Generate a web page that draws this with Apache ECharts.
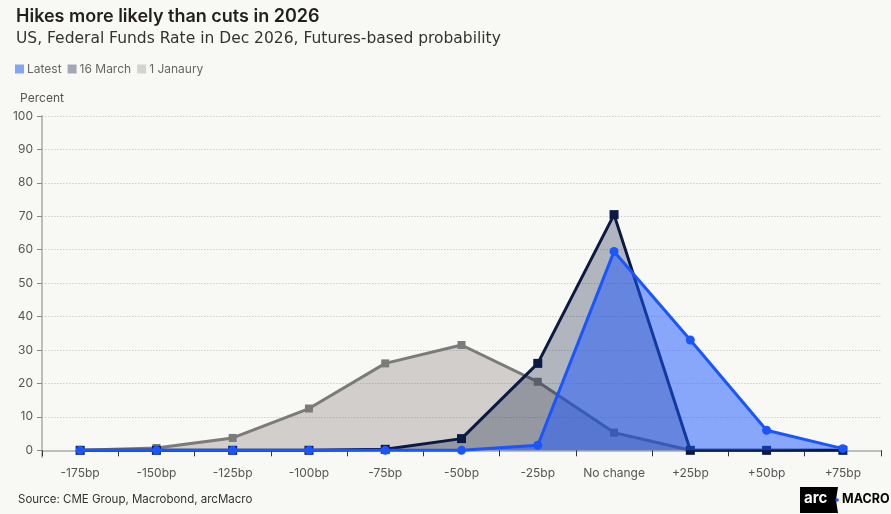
<!DOCTYPE html>
<html><head><meta charset="utf-8">
<script src="https://cdn.jsdelivr.net/npm/echarts@6/dist/echarts.min.js"></script>
<style>html,body{margin:0;padding:0;background:#f8f8f4}#c{width:891px;height:514px}</style>
</head><body><div id="c"></div>
<script>
const categories = ['-175bp','-150bp','-125bp','-100bp','-75bp','-50bp','-25bp','No change','+25bp','+50bp','+75bp'];
const latest   = [0, 0, 0, 0, 0, 0, 1.5, 59.5, 33, 6, 0.5];
const march16  = [0, 0, 0, 0, 0.3, 3.5, 26, 70.5, 0, 0, 0];
const jan1     = [0, 0.7, 3.7, 12.5, 26, 31.5, 20.5, 5.3, 0, 0, 0];
const yTicks   = [0,10,20,30,40,50,60,70,80,90,100];

const FONT = 'Inter, "Noto Sans", sans-serif';
const chart = echarts.init(document.getElementById('c'), null, {renderer:'canvas'});
chart.setOption({
  backgroundColor: '#f8f8f4',
  animation: false,
  textStyle: {fontFamily: FONT},
  title: [
    {text: 'Hikes more likely than cuts in 2026', left: 11, top: 3,
     textStyle: {fontFamily: FONT, fontSize: 18, fontWeight: 600, color: '#231f20'}},
    {text: 'US, Federal Funds Rate in Dec 2026, Futures-based probability', left: 11, top: 26,
     textStyle: {fontFamily: '"DejaVu Sans", sans-serif', fontSize: 15.5, fontWeight: 400, color: '#333'}},
    {text: 'Source: CME Group, Macrobond, arcMacro', left: 13, top: 489,
     textStyle: {fontFamily: FONT, fontSize: 11.5, fontWeight: 400, color: '#333'}}
  ],
  legend: {
    left: 10, top: 58, itemWidth: 9, itemHeight: 9, itemGap: 6,
    icon: 'rect',
    textStyle: {fontFamily: FONT, fontSize: 12, color: '#666', padding: [0,0,0,-2]},
    data: [
      {name: 'Latest', itemStyle: {color: '#82a6f6'}},
      {name: '16 March', itemStyle: {color: '#a3a8b5'}},
      {name: '1 Janaury', itemStyle: {color: '#d6d2d0'}}
    ]
  },
  grid: {left: 42, right: 10, top: 116, bottom: 57},
  xAxis: {
    type: 'category', data: categories, boundaryGap: true,
    axisLine: {lineStyle: {color: '#bdbdbd', width: 2}},
    axisTick: {show: true, length: 6, lineStyle: {color: '#333', width: 1}},
    axisLabel: {color: '#555', fontSize: 12, margin: 10, interval: 0, fontFamily: FONT}
  },
  yAxis: {
    type: 'value', min: -2, max: 100,
    name: 'Percent', nameLocation: 'end', nameGap: 12,
    nameTextStyle: {color: '#555', fontSize: 12, fontFamily: FONT, align: 'center'},
    axisLine: {show: true, lineStyle: {color: '#bdbdbd', width: 2}},
    axisTick: {show: true, inside: false, length: 5, lineStyle: {color: '#888'}, customValues: yTicks},
    axisLabel: {color: '#555', fontSize: 12, margin: 9, customValues: yTicks, fontFamily: FONT},
    splitLine: {show: true, lineStyle: {color: '#cfcfcf', type: [1.5, 1.5], width: 1}}
  },
  series: [
    {name: '1 Janaury', type: 'line', data: jan1, symbol: 'rect', symbolSize: 8,
     lineStyle: {color: '#7b7b7b', width: 3}, itemStyle: {color: '#7b7b7b'},
     areaStyle: {color: 'rgba(120,110,108,0.3)', opacity: 1, origin: 0}, z: 2},
    {name: '16 March', type: 'line', data: march16, symbol: 'rect', symbolSize: 9,
     lineStyle: {color: '#0b1a42', width: 3}, itemStyle: {color: '#0b1a42'},
     areaStyle: {color: 'rgba(11,26,66,0.3)', opacity: 1, origin: 0}, z: 3},
    {name: 'Latest', type: 'line', data: latest, symbol: 'circle', symbolSize: 9,
     lineStyle: {color: '#1a56ff', width: 3}, itemStyle: {color: '#1a56ff'},
     areaStyle: {color: 'rgba(26,86,255,0.5)', opacity: 1, origin: 0}, z: 4}
  ],
  graphic: [
    {type: 'polygon', shape: {points: [[800,487],[838,487],[836,500],[838,513],[800,513]]},
     style: {fill: '#000'}},
    {type: 'text', left: 804, top: 491, style: {text: 'arc', fill: '#fff', font: 'bold 15px Inter, sans-serif'}},
    {type: 'circle', shape: {cx: 837, cy: 500, r: 1.8}, style: {fill: '#1a56ff'}},
    {type: 'text', left: 842, top: 493, style: {text: 'MACRO', fill: '#000', font: 'bold 12.5px Inter, sans-serif'}}
  ]
});
</script></body></html>
